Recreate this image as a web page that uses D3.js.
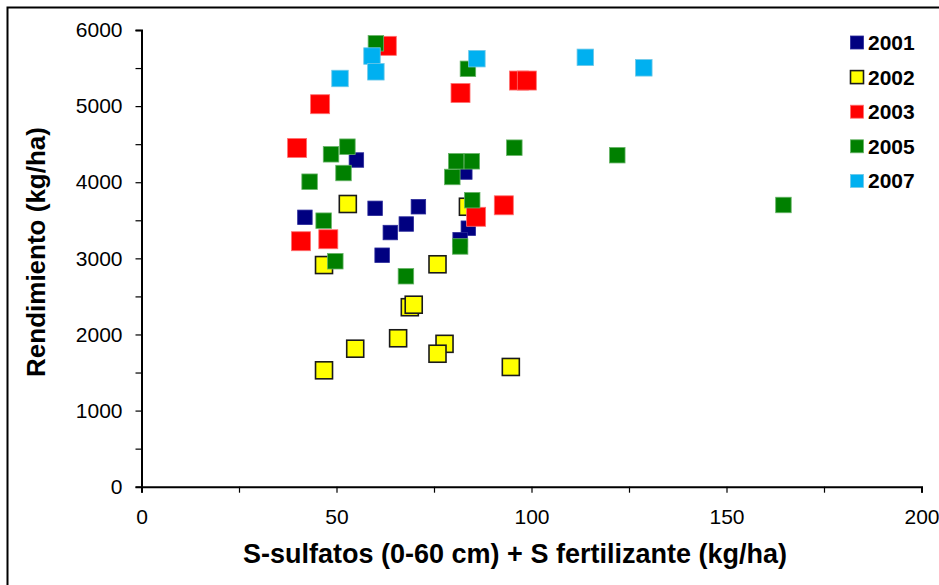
<!DOCTYPE html>
<html>
<head>
<meta charset="utf-8">
<script src="https://cdn.jsdelivr.net/npm/d3@7"></script>
<style>
  body { margin: 0; background: #fff; }
  svg { display: block; }
  text { font-family: "Liberation Sans", Arial, sans-serif; }
</style>
</head>
<body>
<svg id="chart" width="939" height="585"></svg>
<script>
// ---- data ----
const years = ["2001", "2002", "2003", "2005", "2007"];
const s2001x = [55.1, 41.9, 59.9, 71.0, 67.9, 63.8, 61.7, 83.8, 81.7, 82.9];
const s2001y = [4292, 3539, 3657, 3678, 3451, 3339, 3041, 3396, 3244, 4134];
const s2002x = [52.9, 46.8, 54.8, 46.8, 83.7, 75.9, 68.8, 69.8, 65.8, 77.7, 75.9, 94.7];
const s2002y = [3714, 2912, 1813, 1529, 3678, 2922, 2358, 2391, 1950, 1877, 1747, 1573];
const s2003x = [45.8, 39.9, 62.9, 81.8, 96.8, 98.8, 40.9, 47.9, 85.8, 92.9];
const s2003y = [5025, 4450, 5792, 5172, 5336, 5336, 3225, 3251, 3546, 3697];
const s2005x = [60.1, 48.6, 52.8, 51.8, 43.1, 46.7, 49.7, 83.7, 79.7, 80.7, 84.7, 95.6, 122.0, 84.8, 81.7, 67.8, 164.6];
const s2005y = [5825, 4367, 4467, 4121, 4007, 3495, 2962, 5490, 4069, 4275, 4275, 4454, 4355, 3764, 3156, 2765, 3701];
const s2007x = [50.9, 59.1, 60.1, 86.0, 113.8, 128.8];
const s2007y = [5363, 5658, 5451, 5623, 5641, 5503];
const xTicks = [0, 50, 100, 150, 200];
const yTicks = [0, 1000, 2000, 3000, 4000, 5000, 6000];
const xTitle = "S-sulfatos (0-60 cm) + S fertilizante (kg/ha)";
const yTitle = "Rendimiento (kg/ha)";

// ---- styles ----
const styles = {
  "2001": { fill: "#000080", stroke: "#2a2a9a", sw: 0.8, size: 14.5 },
  "2002": { fill: "#FFFF00", stroke: "#1a1a1a", sw: 1.6, size: 17 },
  "2003": { fill: "#FF0000", stroke: "#ff7070", sw: 0.8, size: 19 },
  "2005": { fill: "#008000", stroke: "#66b366", sw: 0.8, size: 15.5 },
  "2007": { fill: "#00B0F0", stroke: "#70c8e8", sw: 0.8, size: 16.5 }
};
const seriesData = {
  "2001": s2001x.map((v, i) => ({ x: v, y: s2001y[i] })),
  "2002": s2002x.map((v, i) => ({ x: v, y: s2002y[i] })),
  "2003": s2003x.map((v, i) => ({ x: v, y: s2003y[i] })),
  "2005": s2005x.map((v, i) => ({ x: v, y: s2005y[i] })),
  "2007": s2007x.map((v, i) => ({ x: v, y: s2007y[i] }))
};

const svg = d3.select("#chart");
// outer border (chart area frame, cropped on right/bottom)
svg.append("rect").attr("x", 7.5).attr("y", 7.5).attr("width", 1000).attr("height", 1000)
  .attr("fill", "none").attr("stroke", "#000").attr("stroke-width", 2);

const x = d3.scaleLinear().domain([0, 200]).range([141.5, 921.5]);
const y = d3.scaleLinear().domain([0, 6000]).range([486.7, 30]);

// y axis
const yAxis = d3.axisLeft(y).tickValues(d3.range(0, 6001, 500))
  .tickSize(6).tickPadding(13)
  .tickFormat(d => (yTicks.includes(d) ? d : ""));
const gy = svg.append("g").attr("transform", `translate(${x(0)},0)`).call(yAxis);
gy.select(".domain").attr("stroke-width", 2);
gy.selectAll(".tick line").attr("stroke-width", 1.2);
gy.selectAll(".tick text").attr("font-size", 21).attr("fill", "#000")
  .attr("font-family", "'Liberation Sans', Arial, sans-serif");

// x axis
const xAxis = d3.axisBottom(x).tickValues(d3.range(0, 201, 25))
  .tickSize(6).tickPadding(16).tickSizeOuter(6)
  .tickFormat(d => (xTicks.includes(d) ? d : ""));
const gx = svg.append("g").attr("transform", `translate(0,${y(0)})`).call(xAxis);
gx.select(".domain").attr("stroke-width", 2);
gx.selectAll(".tick line").attr("stroke-width", 1.2);
gx.selectAll(".tick text").attr("font-size", 21).attr("fill", "#000")
  .attr("font-family", "'Liberation Sans', Arial, sans-serif");

// titles
svg.append("text").attr("x", 515).attr("y", 563).attr("text-anchor", "middle")
  .attr("font-size", 27).attr("font-weight", "bold").text(xTitle);
svg.append("text").attr("transform", `translate(45,252) rotate(-90)`)
  .attr("text-anchor", "middle").attr("font-size", 26).attr("font-weight", "bold").text(yTitle);

// points
years.forEach(yr => {
  const st = styles[yr];
  svg.append("g").selectAll("rect").data(seriesData[yr]).join("rect")
    .attr("x", d => x(d.x) - st.size / 2)
    .attr("y", d => y(d.y) - st.size / 2)
    .attr("width", st.size).attr("height", st.size)
    .attr("fill", st.fill).attr("stroke", st.stroke).attr("stroke-width", st.sw);
});

// legend
const lg = svg.append("g");
years.forEach((yr, i) => {
  const st = styles[yr];
  const cy = 42.5 + i * 34.6;
  lg.append("rect").attr("x", 850.5).attr("y", cy - 6.5).attr("width", 13).attr("height", 13)
    .attr("fill", st.fill).attr("stroke", st.stroke).attr("stroke-width", st.sw);
  lg.append("text").attr("x", 868).attr("y", cy + 7.5).attr("font-size", 21)
    .attr("font-weight", "bold").text(yr);
});
</script>
</body>
</html>
